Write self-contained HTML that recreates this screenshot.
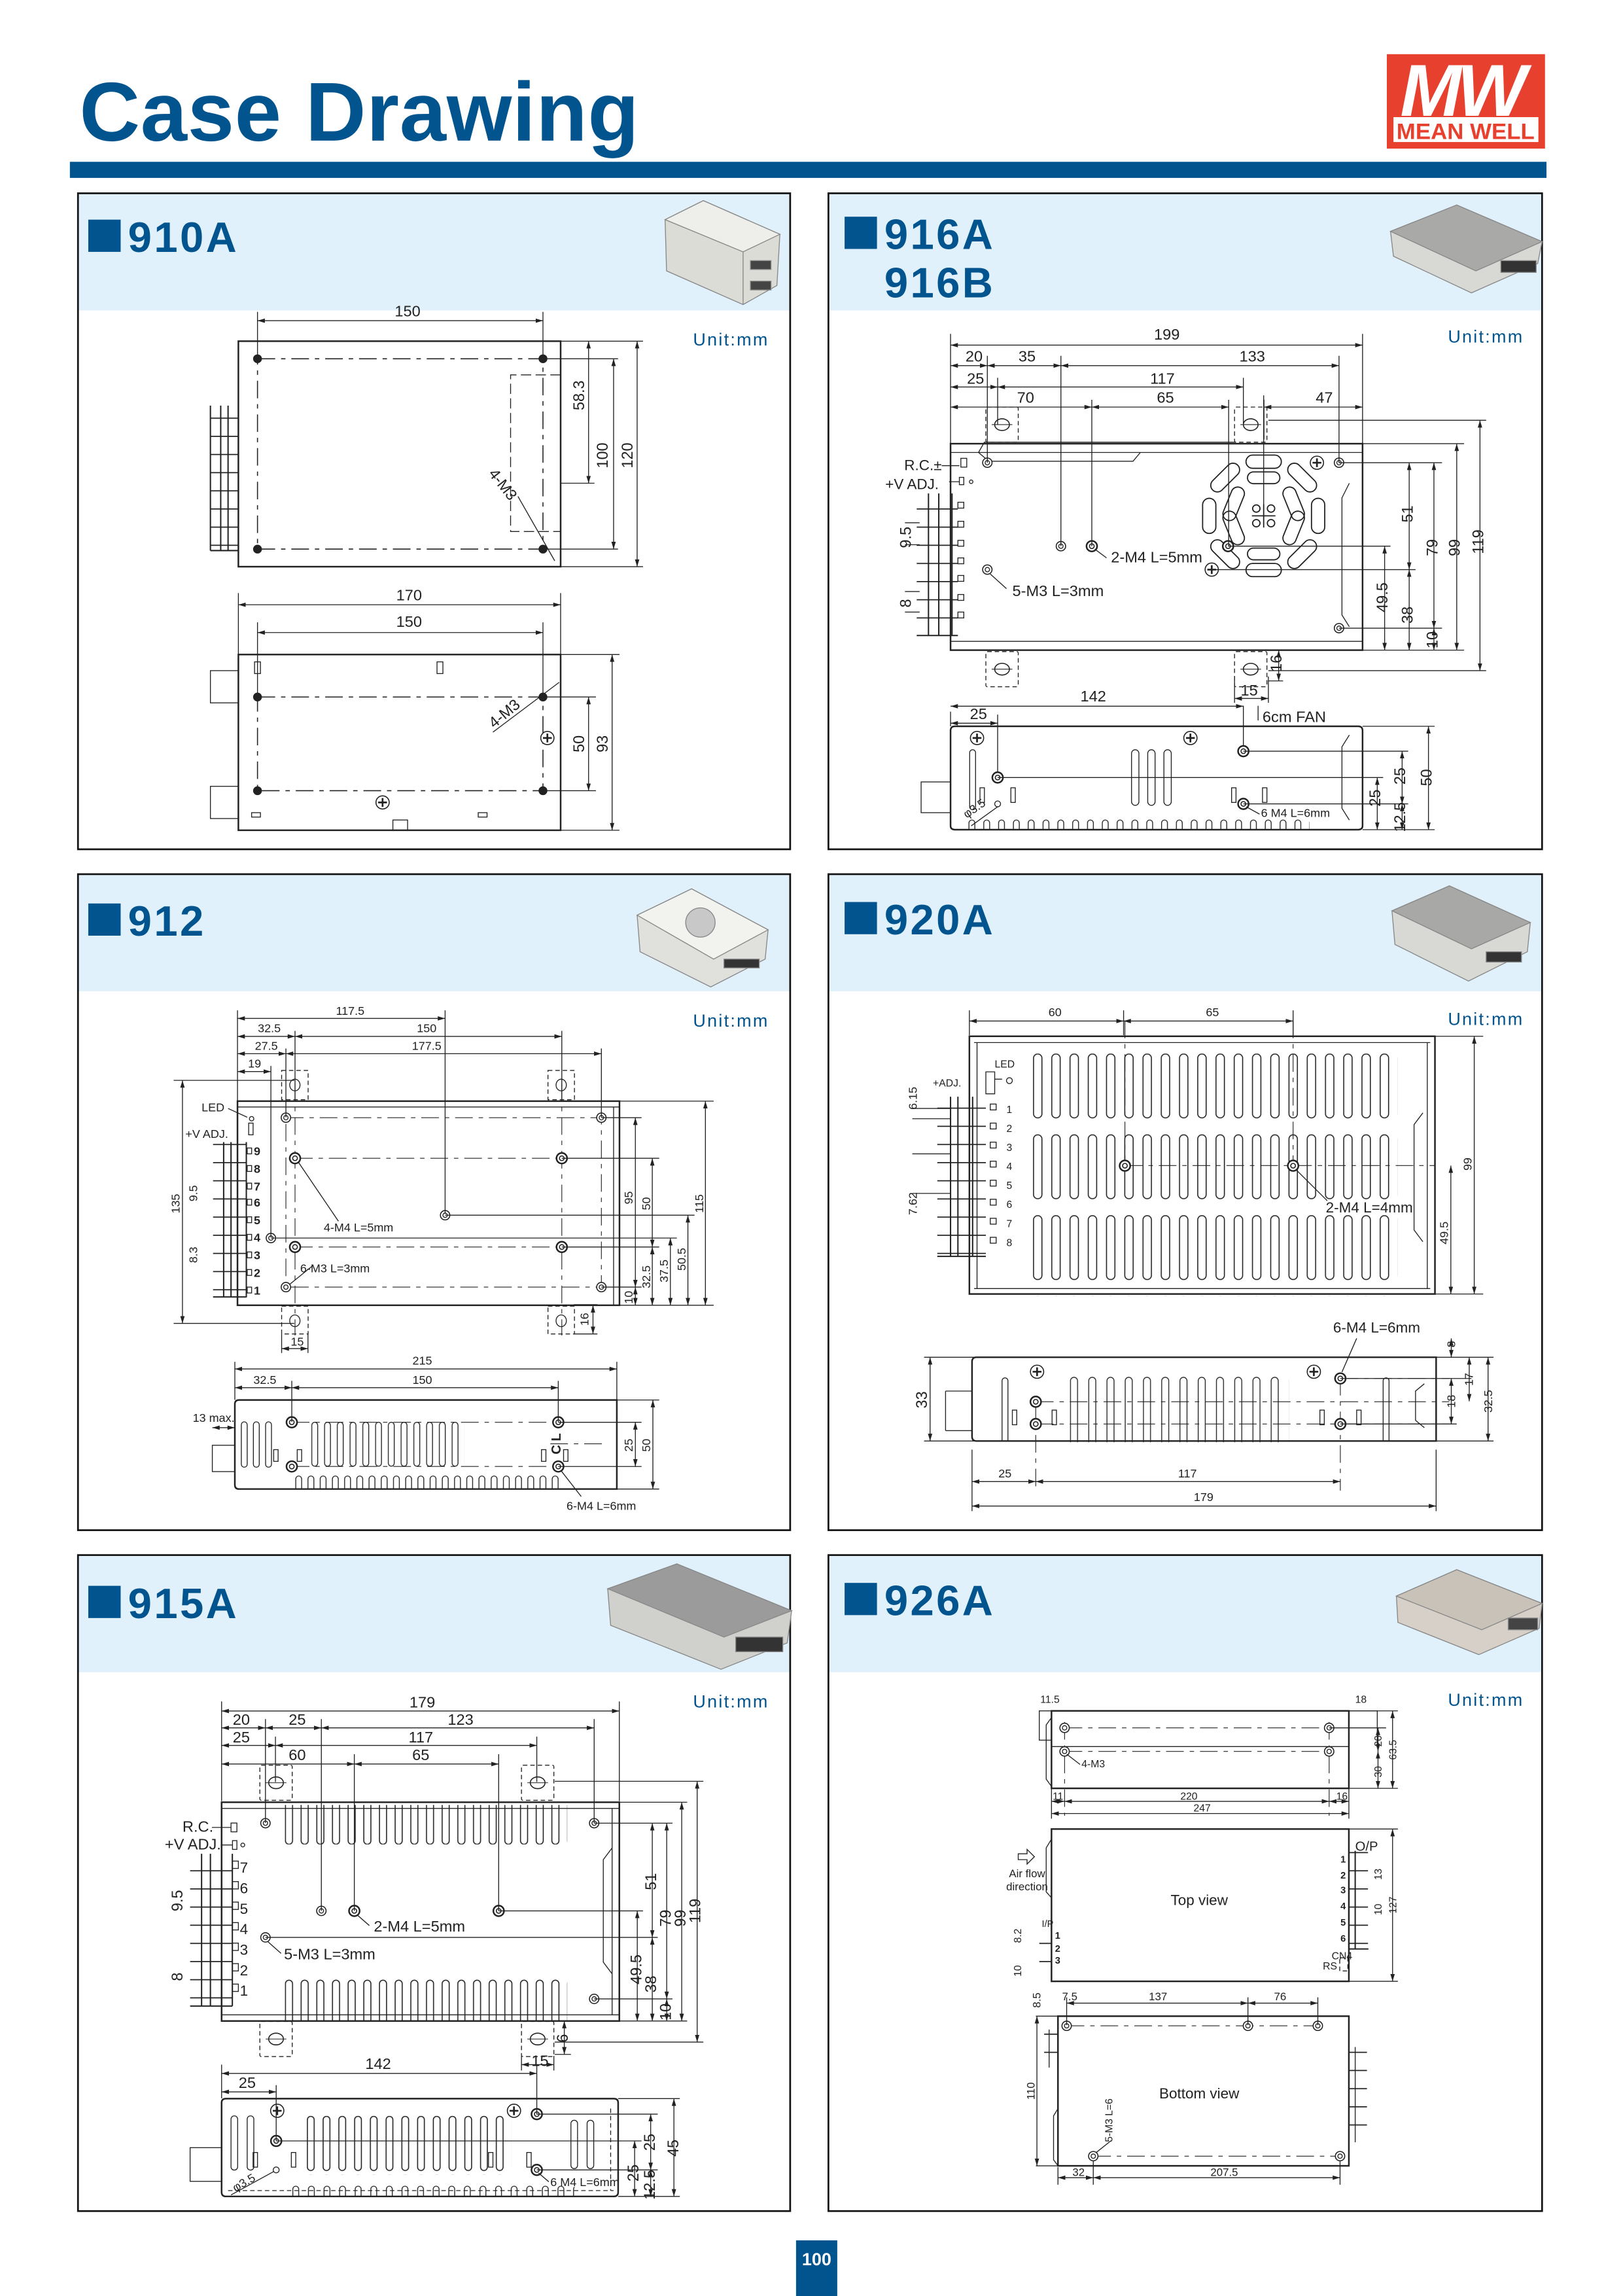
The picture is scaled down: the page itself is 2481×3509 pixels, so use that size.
<!DOCTYPE html><html><head><meta charset="utf-8"><style>
html,body{margin:0;padding:0;background:#fff}
svg{display:block}
.o{fill:none;stroke:#222;stroke-width:1.1}
.t{fill:none;stroke:#222;stroke-width:0.6}
.d{fill:none;stroke:#222;stroke-width:0.6;marker-start:url(#a);marker-end:url(#a)}
.c{fill:none;stroke:#222;stroke-width:0.7;stroke-dasharray:12 4 3 4}
.k{fill:none;stroke:#222;stroke-width:0.6;stroke-dasharray:3 2}
text{font-family:"Liberation Sans",sans-serif;fill:#222}
.l{font-size:10.5px;text-anchor:middle}
.s{font-size:8px}
.m9{font-size:9px}
.h{font-size:29px;font-weight:bold;fill:#02548f;letter-spacing:1.5px}
.u{font-size:12px;fill:#02548f;letter-spacing:1px}
</style></head><body>
<svg width="2481" height="3509" viewBox="0 0 1103 1568" preserveAspectRatio="none">
<defs>
<marker id="a" markerUnits="userSpaceOnUse" markerWidth="5" markerHeight="3" refX="5" refY="1.5" orient="auto-start-reverse"><path d="M0,0 L5,1.5 L0,3z" fill="#222"/></marker>
<g id="m"><circle r="3.2" fill="#fff" stroke="#222" stroke-width="0.7"/><circle r="1.5" fill="none" stroke="#222" stroke-width="0.6"/></g>
<g id="M"><circle r="3.6" fill="#fff" stroke="#222" stroke-width="1.1"/><circle r="1.6" fill="none" stroke="#222" stroke-width="0.7"/></g>
<g id="x"><circle r="4.5" fill="#fff" stroke="#222" stroke-width="0.7"/><path d="M-3,0H3M0,-3V3" stroke="#222" stroke-width="1.2"/></g>
<g id="tab"><rect x="-11" y="-12" width="22" height="24" rx="1" fill="none" stroke="#222" stroke-width="0.6" stroke-dasharray="3 2"/><ellipse rx="5" ry="4" fill="none" stroke="#222" stroke-width="0.7"/><path d="M-7,0H7" stroke="#222" stroke-width="0.5"/></g>
<pattern id="p4" patternUnits="userSpaceOnUse" x="702" y="719.5" width="12.4" height="55.2"><rect x="0.4" y="0.3" width="5.7" height="43.6" rx="2.8" fill="none" stroke="#222" stroke-width="0.7"/></pattern>
<pattern id="p4b" patternUnits="userSpaceOnUse" x="727" y="940" width="12.4" height="50"><path d="M0.5,45V3a2.4,2.4 0 0 1 4.8,0V45" fill="none" stroke="#222" stroke-width="0.6"/></pattern>
<pattern id="p5a" patternUnits="userSpaceOnUse" x="193.5" y="1232.6" width="10.65" height="28"><path d="M0.5,0V24.5a2.4,2.4 0 0 0 4.8,0V0" fill="none" stroke="#222" stroke-width="0.7"/></pattern>
<pattern id="p5b" patternUnits="userSpaceOnUse" x="193.5" y="1351.7" width="10.65" height="30"><path d="M0.5,30V3a2.4,2.4 0 0 1 4.8,0V30" fill="none" stroke="#222" stroke-width="0.7"/></pattern>
<pattern id="p5c" patternUnits="userSpaceOnUse" x="208.5" y="1445" width="10.7" height="40"><rect x="0.4" y="0.3" width="4.6" height="37" rx="2.3" fill="none" stroke="#222" stroke-width="0.7"/></pattern>
<pattern id="p3c" patternUnits="userSpaceOnUse" x="211.5" y="971" width="8.67" height="32"><rect x="0.4" y="0.3" width="4" height="30" rx="2" fill="none" stroke="#222" stroke-width="0.6"/></pattern>
<pattern id="arch" patternUnits="userSpaceOnUse" x="0" y="0" width="10.07" height="1600"><path d="M1,1600V0" stroke="none"/></pattern>
<pattern id="a2" patternUnits="userSpaceOnUse" x="658" y="559" width="10.07" height="8"><path d="M0.5,8V3a2,2 0 0 1 4,0V8" fill="none" stroke="#222" stroke-width="0.6"/></pattern>
<pattern id="a3" patternUnits="userSpaceOnUse" x="200.5" y="1007" width="8.3" height="10"><path d="M0.5,10V3a2,2 0 0 1 4,0V10" fill="none" stroke="#222" stroke-width="0.6"/></pattern>
<pattern id="a5" patternUnits="userSpaceOnUse" x="198.5" y="1492" width="10.6" height="8"><path d="M0.5,8V3a2,2 0 0 1 4,0V8" fill="none" stroke="#222" stroke-width="0.6"/></pattern>
<pattern id="tb" patternUnits="userSpaceOnUse" x="0" y="0" width="30" height="12.4"><path d="M0,0.3H30" stroke="#222" stroke-width="1"/></pattern>
</defs>

<!-- Header -->
<text x="54" y="96" style="font-size:57px;font-weight:bold;fill:#02548f;letter-spacing:0.3px">Case Drawing</text>
<rect x="47.5" y="110.5" width="1003.5" height="11" fill="#02548f"/>
<rect x="942.5" y="37" width="107.5" height="64.5" fill="#e8402f"/>
<text x="993" y="79" style="font-size:50px;font-weight:bold;font-style:italic;fill:#fff;text-anchor:middle;letter-spacing:-3px">MW</text>
<rect x="947" y="80" width="98.5" height="17" fill="#fff"/>
<text x="996" y="95" style="font-size:15.5px;font-weight:bold;fill:#e8402f;text-anchor:middle">MEAN WELL</text>

<!-- Panels -->
<g>
<rect x="53" y="132" width="484" height="80" fill="#e0f1fb"/>
<rect x="563" y="132" width="485" height="80" fill="#e0f1fb"/>
<rect x="53" y="597" width="484" height="80" fill="#e0f1fb"/>
<rect x="563" y="597" width="485" height="80" fill="#e0f1fb"/>
<rect x="53" y="1062" width="484" height="80" fill="#e0f1fb"/>
<rect x="563" y="1062" width="485" height="80" fill="#e0f1fb"/>
<g fill="none" stroke="#111" stroke-width="1.2">
<rect x="53" y="132" width="484" height="448"/>
<rect x="563" y="132" width="485" height="448"/>
<rect x="53" y="597" width="484" height="448"/>
<rect x="563" y="597" width="485" height="448"/>
<rect x="53" y="1062" width="484" height="448"/>
<rect x="563" y="1062" width="485" height="448"/>
</g>
<g fill="#02548f">
<rect x="60" y="150" width="22" height="22"/><rect x="574" y="148" width="22" height="22"/>
<rect x="60" y="617" width="22" height="22"/><rect x="574" y="616" width="22" height="22"/>
<rect x="60" y="1083" width="22" height="22"/><rect x="574" y="1081" width="22" height="22"/>
</g>
<text class="h" x="87" y="172">910A</text>
<text class="h" x="601" y="170">916A</text>
<text class="h" x="601" y="203">916B</text>
<text class="h" x="87" y="639">912</text>
<text class="h" x="601" y="638">920A</text>
<text class="h" x="87" y="1105">915A</text>
<text class="h" x="601" y="1103">926A</text>
<text class="u" x="471" y="236">Unit:mm</text>
<text class="u" x="984" y="234">Unit:mm</text>
<text class="u" x="471" y="701">Unit:mm</text>
<text class="u" x="984" y="700">Unit:mm</text>
<text class="u" x="471" y="1166">Unit:mm</text>
<text class="u" x="984" y="1165">Unit:mm</text>
<!-- photos -->
<g stroke="#888" stroke-width="0.6">
<polygon points="452,150 478,137 530,160 528,195 505,208 453,185" fill="#dcdcd6"/>
<polygon points="478,137 530,160 505,172 452,150" fill="#eeeeea"/>
<path d="M505,172V208" fill="none"/><rect x="510" y="178" width="14" height="6" fill="#444"/><rect x="510" y="192" width="14" height="6" fill="#444"/>
<polygon points="945,158 990,140 1048,165 1045,180 1000,200 947,175" fill="#d8d8d4"/>
<polygon points="945,158 990,140 1048,165 1003,185" fill="#a9aaa8"/>
<rect x="1020" y="178" width="24" height="8" fill="#333"/>
<polygon points="433,625 470,607 522,635 520,655 483,674 435,650" fill="#e0e0dc"/>
<polygon points="433,625 470,607 522,635 485,655" fill="#f2f2ee"/>
<circle cx="476" cy="630" r="10" fill="#c8c8c8"/><rect x="492" y="655" width="24" height="6" fill="#333"/>
<polygon points="946,622 985,605 1040,630 1038,650 998,670 948,645" fill="#d8d8d4"/>
<polygon points="946,622 985,605 1040,630 1000,648" fill="#a8a8a6"/>
<rect x="1010" y="650" width="24" height="7" fill="#333"/>
<polygon points="413,1085 460,1068 538,1100 535,1122 490,1140 415,1110" fill="#d0d0cc"/>
<polygon points="413,1085 460,1068 538,1100 492,1118" fill="#9a9b9a"/>
<rect x="500" y="1118" width="32" height="10" fill="#333"/>
<polygon points="949,1090 990,1072 1048,1095 1046,1112 1005,1130 950,1108" fill="#d6d0c8"/>
<polygon points="949,1090 990,1072 1048,1095 1007,1113" fill="#c8c2b8"/>
<rect x="1025" y="1105" width="20" height="8" fill="#444"/>
</g>
</g>

<!-- ============ P1 910A ============ -->
<g>
<rect class="o" x="162" y="233" width="219" height="154"/>
<path class="c" d="M175,245H369V375H175Z"/>
<path class="k" d="M381,256H347V363H381" style="stroke-dasharray:7 3"/>
<g fill="#222"><circle cx="175" cy="245" r="3"/><circle cx="369" cy="245" r="3"/><circle cx="175" cy="375" r="3"/><circle cx="369" cy="375" r="3"/></g>
<rect x="143" y="277" width="19" height="99" fill="url(#tb)"/>
<path class="t" d="M143,277V376M150,277V376M155,277V376M143,376H162" style="stroke-width:0.9"/>
<path class="t" d="M175,213V245M369,213V245"/><line class="d" x1="175" y1="219" x2="369" y2="219"/><text class="l" x="277" y="216">150</text>
<path class="t" d="M381,233H437M369,245H420M381,330H404M369,375H420M381,387H437"/>
<line class="d" x1="400" y1="233" x2="400" y2="330"/><line class="d" x1="417" y1="245" x2="417" y2="375"/><line class="d" x1="433" y1="233" x2="433" y2="387"/>
<text class="l" transform="translate(397,270) rotate(-90)">58.3</text>
<text class="l" transform="translate(413,311) rotate(-90)">100</text>
<text class="l" transform="translate(430,311) rotate(-90)">120</text>
<path class="t" d="M352,339L377,383"/><text class="l" transform="translate(339,333) rotate(52)">4-M3</text>

<rect class="o" x="162" y="447" width="219" height="120"/>
<path class="c" d="M175,476H369V540H175Z"/>
<g fill="#222"><circle cx="175" cy="476" r="3"/><circle cx="369" cy="476" r="3"/><circle cx="175" cy="540" r="3"/><circle cx="369" cy="540" r="3"/></g>
<rect class="t" x="143" y="458" width="19" height="22"/><rect class="t" x="143" y="537" width="19" height="22"/>
<rect class="t" x="173" y="452" width="4" height="8"/><rect class="t" x="297" y="452" width="4" height="8"/>
<rect class="t" x="171" y="555" width="6" height="3"/><rect class="t" x="325" y="555" width="6" height="3"/>
<rect class="t" x="267" y="560" width="10" height="7"/>
<use href="#x" x="260" y="548"/><use href="#x" x="372" y="504"/>
<path class="t" d="M162,405V447M381,405V447M175,425V476M369,425V476"/>
<line class="d" x1="162" y1="413" x2="381" y2="413"/><text class="l" x="278" y="410">170</text>
<line class="d" x1="175" y1="432" x2="369" y2="432"/><text class="l" x="278" y="428">150</text>
<path class="t" d="M381,447H421M369,476H405M369,540H405M381,567H421"/>
<line class="d" x1="400" y1="476" x2="400" y2="540"/><line class="d" x1="416" y1="447" x2="416" y2="567"/>
<text class="l" transform="translate(397,508) rotate(-90)">50</text>
<text class="l" transform="translate(413,508) rotate(-90)">93</text>
<path class="t" d="M335,500L380,466"/><text class="l" transform="translate(345,490) rotate(-40)">4-M3</text>
</g>

<!-- ============ P2 916A ============ -->
<g>
<rect class="o" x="646" y="303" width="280" height="141"/>
<path class="t" d="M646,309H926M646,438H926"/>
<path class="t" d="M665,309L669,302H840M665,309L672,315H770L775,309"/>
<path class="t" d="M917,330L912,340V420L917,428"/>
<use href="#tab" x="681" y="290"/><use href="#tab" x="850" y="290"/><use href="#tab" x="681" y="457"/><use href="#tab" x="850" y="457"/>
<g transform="translate(858.8,352.3)" fill="none" stroke="#222" stroke-width="0.8">
<rect x="-4.5" y="-12" width="9" height="24" rx="4.5" transform="rotate(0) translate(37,0)"/>
<rect x="-4.5" y="-12" width="9" height="24" rx="4.5" transform="rotate(45) translate(37,0)"/>
<rect x="-4.5" y="-12" width="9" height="24" rx="4.5" transform="rotate(90) translate(37,0)"/>
<rect x="-4.5" y="-12" width="9" height="24" rx="4.5" transform="rotate(135) translate(37,0)"/>
<rect x="-4.5" y="-12" width="9" height="24" rx="4.5" transform="rotate(180) translate(37,0)"/>
<rect x="-4.5" y="-12" width="9" height="24" rx="4.5" transform="rotate(225) translate(37,0)"/>
<rect x="-4.5" y="-12" width="9" height="24" rx="4.5" transform="rotate(270) translate(37,0)"/>
<rect x="-4.5" y="-12" width="9" height="24" rx="4.5" transform="rotate(315) translate(37,0)"/>
<rect x="-4.5" y="-12" width="9" height="24" rx="4.5" transform="rotate(22) translate(22,0)"/>
<rect x="-4.5" y="-12" width="9" height="24" rx="4.5" transform="rotate(158) translate(22,0)"/>
<rect x="-4.5" y="-12" width="9" height="24" rx="4.5" transform="rotate(202) translate(22,0)"/>
<rect x="-4.5" y="-12" width="9" height="24" rx="4.5" transform="rotate(338) translate(22,0)"/>
<rect x="-11" y="-30" width="22" height="8" rx="4"/><rect x="-11" y="22" width="22" height="8" rx="4"/>
<circle cx="-5" cy="-5" r="2.5"/><circle cx="5" cy="-5" r="2.5"/><circle cx="-5" cy="5" r="2.5"/><circle cx="5" cy="5" r="2.5"/>
<path d="M-8,0H8M0,-8V8"/>
</g>
<path class="t" d="M858.8,270V345"/>
<use href="#m" x="671" y="316"/><use href="#m" x="910" y="316"/><use href="#m" x="910" y="429"/><use href="#m" x="671" y="389"/><use href="#m" x="721" y="373"/>
<use href="#M" x="742" y="373"/><use href="#M" x="834.6" y="373"/>
<use href="#x" x="895" y="316"/><use href="#x" x="823.5" y="389"/>
<rect x="623" y="337" width="28" height="97" fill="url(#tb)"/>
<path class="t" d="M631,337V434M638,337V434M647,337V434M623,434H651" style="stroke-width:0.9"/>
<g class="t"><rect x="651" y="343" width="4" height="4"/><rect x="651" y="356" width="4" height="4"/><rect x="651" y="369" width="4" height="4"/><rect x="651" y="381" width="4" height="4"/><rect x="651" y="393" width="4" height="4"/><rect x="651" y="406" width="4" height="4"/><rect x="651" y="418" width="4" height="4"/></g>
<rect class="t" x="653" y="313" width="4" height="6"/><rect class="t" x="652" y="326" width="3" height="5"/><circle class="t" cx="660" cy="329" r="1.2"/>
<path class="t" d="M640,318H652M645,329H652"/>
<text x="640" y="321" style="font-size:10px;text-anchor:end">R.C.±</text>
<text x="638" y="334" style="font-size:10px;text-anchor:end">+V ADJ.</text>
<text class="l" transform="translate(619,367) rotate(-90)">9.5</text>
<text class="l" transform="translate(619,412) rotate(-90)">8</text>
<path class="t" d="M625,357H615M625,372H615M625,404H615M625,418H615"/>
<!-- dims top -->
<path class="t" d="M646,228V303M926,228V303M671,243V316M721,243V373M910,243V316M678,258V290M845,258V290M742,273V373M835,273V373M859,273V300"/>
<line class="d" x1="646" y1="235.7" x2="926" y2="235.7"/><text class="l" x="793" y="232">199</text>
<line class="d" x1="646" y1="249.7" x2="671" y2="249.7"/><line class="d" x1="671" y1="249.7" x2="721" y2="249.7"/><line class="d" x1="721" y1="249.7" x2="910" y2="249.7"/>
<text class="l" x="662" y="247">20</text><text class="l" x="698" y="247">35</text><text class="l" x="851" y="247">133</text>
<line class="d" x1="646" y1="264.3" x2="678" y2="264.3"/><line class="d" x1="678" y1="264.3" x2="845" y2="264.3"/>
<text class="l" x="663" y="262">25</text><text class="l" x="790" y="262">117</text>
<line class="d" x1="646" y1="278" x2="742" y2="278"/><line class="d" x1="742" y1="278" x2="835" y2="278"/><line class="d" x1="859" y1="278" x2="926" y2="278"/>
<text class="l" x="697" y="275">70</text><text class="l" x="792" y="275">65</text><text class="l" x="900" y="275">47</text>
<!-- dims right -->
<path class="t" d="M862,287H1010M926,303H995M910,316H980M834.6,373H945M823.5,389H962M910,429H980M926,444H995M862,458H1010"/>
<line class="d" x1="941" y1="373" x2="941" y2="444"/><line class="d" x1="957.7" y1="316" x2="957.7" y2="389"/><line class="d" x1="957.7" y1="389" x2="957.7" y2="444"/>
<line class="d" x1="974.5" y1="316" x2="974.5" y2="429"/><line class="d" x1="974.5" y1="429" x2="974.5" y2="444"/>
<line class="d" x1="990" y1="303" x2="990" y2="444"/><line class="d" x1="1005.8" y1="287" x2="1005.8" y2="458"/>
<text class="l" transform="translate(943,408) rotate(-90)">49.5</text>
<text class="l" transform="translate(960,351) rotate(-90)">51</text>
<text class="l" transform="translate(960,420) rotate(-90)">38</text>
<text class="l" transform="translate(977,374) rotate(-90)">79</text>
<text class="l" transform="translate(977,437) rotate(-90)">10</text>
<text class="l" transform="translate(992,374) rotate(-90)">99</text>
<text class="l" transform="translate(1008,370) rotate(-90)">119</text>
<path class="t" d="M862,444H872M862,465H872M839,462V480M862,462V480"/><line class="d" x1="869" y1="444" x2="869" y2="465"/>
<text class="l" transform="translate(871,453) rotate(-90)">16</text>
<line class="d" x1="839" y1="477" x2="862" y2="477"/><text class="l" x="849" y="475">15</text>
<text x="755" y="384" style="font-size:10.5px">2-M4 L=5mm</text><path class="t" d="M744,375L752,381"/>
<text x="688" y="407" style="font-size:10.5px">5-M3 L=3mm</text><path class="t" d="M673,392L684,402"/>
<!-- side -->
<path class="o" d="M649,496H923Q926,496 926,499V564Q926,566.6 923,566.6H649Q646,566.6 646,564V499Q646,496 649,496Z"/>
<rect class="t" x="626" y="534" width="20" height="21"/>
<path class="t" d="M917,502L912,510V552L917,560"/>
<path class="t" d="M646,486V496M678,488V531M845,482V513"/>
<line class="d" x1="646" y1="482.3" x2="845" y2="482.3"/><text class="l" x="743" y="479">142</text>
<line class="d" x1="646" y1="493.9" x2="678" y2="493.9"/><text class="l" x="665" y="491">25</text>
<path class="t" d="M855,482V492"/><text x="858" y="493" style="font-size:10.5px">6cm  FAN</text>
<use href="#M" x="678" y="531"/><use href="#M" x="845" y="513"/><use href="#M" x="845" y="549"/>
<circle class="t" cx="678" cy="549" r="2"/>
<use href="#x" x="664" y="504"/><use href="#x" x="809" y="504"/>
<g class="t"><rect x="659" y="512" width="4" height="41" rx="2"/><rect x="769" y="512" width="5" height="38" rx="2.5"/><rect x="780" y="512" width="5" height="38" rx="2.5"/><rect x="791" y="512" width="5" height="38" rx="2.5"/>
<rect x="666" y="538" width="3" height="10"/><rect x="687" y="538" width="3" height="10"/><rect x="837" y="538" width="3" height="10"/><rect x="858" y="538" width="3" height="10"/></g>
<rect x="658" y="559" width="232" height="8" fill="url(#a2)"/>
<path class="t" d="M660,564L678,551"/><text class="s" transform="translate(657,559) rotate(-35)">φ3.5</text>
<text class="s" x="857" y="558">6 M4 L=6mm</text><path class="t" d="M847,551L856,556"/>
<path class="t" d="M926,496H975M845,513H957M678,531H940M845,549H957M926,566.6H975"/>
<line class="d" x1="970.8" y1="496" x2="970.8" y2="566.6"/><line class="d" x1="952.9" y1="513" x2="952.9" y2="549"/><line class="d" x1="952.9" y1="549" x2="952.9" y2="566.6"/><line class="d" x1="936" y1="531" x2="936" y2="566.6"/>
<text class="l" transform="translate(973,531) rotate(-90)">50</text>
<text class="l" transform="translate(955,530) rotate(-90)">25</text>
<text class="l" transform="translate(955,558) rotate(-90)">12.5</text>
<text class="l" transform="translate(938,545) rotate(-90)">25</text>
</g>

<!-- ============ P3 912 ============ -->
<g>
<rect class="o" x="161.4" y="752" width="259.6" height="139.4"/>
<path class="t" d="M161.4,756H421M417,756V891"/>
<path class="c" d="M194.3,763.3H408.7V879H194.3Z" style="stroke-width:0.5"/>
<path class="c" d="M200.5,740V912M381.8,740V912M200.5,791H381.8M200.5,851.6H381.8" style="stroke-width:0.5"/>
<use href="#m" x="194.3" y="763.3"/><use href="#m" x="408.7" y="763.3"/><use href="#m" x="194.3" y="879"/><use href="#m" x="408.7" y="879"/><use href="#m" x="184.1" y="845.5"/><use href="#m" x="302.5" y="829.9"/>
<use href="#M" x="200.5" y="791"/><use href="#M" x="381.8" y="791"/><use href="#M" x="200.5" y="851.6"/><use href="#M" x="381.8" y="851.6"/>
<g><rect class="k" x="191.4" y="731" width="18" height="20"/><rect class="k" x="372.4" y="731" width="18" height="20"/><rect class="k" x="191.4" y="892" width="18" height="19"/><rect class="k" x="372.4" y="892" width="18" height="19"/>
<ellipse class="t" cx="200.4" cy="741" rx="3.5" ry="4"/><ellipse class="t" cx="381.4" cy="741" rx="3.5" ry="4"/><ellipse class="t" cx="200.4" cy="902" rx="3.5" ry="4"/><ellipse class="t" cx="381.4" cy="902" rx="3.5" ry="4"/></g>
<rect x="144.8" y="779.7" width="22.6" height="106" fill="url(#tb)"/>
<path class="t" d="M144.8,885.7H167.4M152,780V886M157,780V886M167.4,780V886" style="stroke-width:0.9"/>
<g class="t"><rect x="168" y="784" width="3" height="4"/><rect x="168" y="796" width="3" height="4"/><rect x="168" y="808" width="3" height="4"/><rect x="168" y="819" width="3" height="4"/><rect x="168" y="831" width="3" height="4"/><rect x="168" y="843" width="3" height="4"/><rect x="168" y="855" width="3" height="4"/><rect x="168" y="867" width="3" height="4"/><rect x="168" y="879" width="3" height="4"/></g>
<g class="s" style="font-weight:bold"><text x="172.5" y="789">9</text><text x="172.5" y="801">8</text><text x="172.5" y="813">7</text><text x="172.5" y="824">6</text><text x="172.5" y="836">5</text><text x="172.5" y="848">4</text><text x="172.5" y="860">3</text><text x="172.5" y="872">2</text><text x="172.5" y="884">1</text></g>
<text class="s" x="137" y="759">LED</text><path class="t" d="M155,757L168,763"/><circle class="t" cx="171" cy="764" r="1.5"/>
<text class="s" x="126" y="777">+V ADJ.</text><rect class="t" x="169" y="767" width="3" height="8"/>
<text class="s" transform="translate(122,822) rotate(-90)" style="text-anchor:middle">135</text>
<path class="t" d="M118,737.8H200M118,903.8H200"/><line class="d" x1="124" y1="737.8" x2="124" y2="903.8"/>
<text class="s" transform="translate(134,815) rotate(-90)" style="text-anchor:middle">9.5</text>
<text class="s" transform="translate(134,857) rotate(-90)" style="text-anchor:middle">8.3</text>
<!-- top dims -->
<path class="t" d="M161.4,690V752M302.5,690V829M200.5,704V752M381.8,704V752M194.3,716V763M408.7,716V763M184.1,728V845"/>
<line class="d" x1="161.4" y1="695.5" x2="302.5" y2="695.5"/><text class="s" x="238" y="693" style="text-anchor:middle">117.5</text>
<line class="d" x1="161.4" y1="707.8" x2="200.5" y2="707.8"/><line class="d" x1="200.5" y1="707.8" x2="381.8" y2="707.8"/>
<text class="s" x="183" y="705" style="text-anchor:middle">32.5</text><text class="s" x="290" y="705" style="text-anchor:middle">150</text>
<line class="d" x1="161.4" y1="719.6" x2="194.3" y2="719.6"/><line class="d" x1="194.3" y1="719.6" x2="408.7" y2="719.6"/>
<text class="s" x="181" y="717" style="text-anchor:middle">27.5</text><text class="s" x="290" y="717" style="text-anchor:middle">177.5</text>
<line class="d" x1="161.4" y1="731.8" x2="184.1" y2="731.8"/><text class="s" x="173" y="729" style="text-anchor:middle">19</text>
<!-- right dims -->
<path class="t" d="M421,752H485M408.7,763.3H436M381.8,791H448M302.5,829.9H472M184.1,845.5H460M381.8,851.6H448M408.7,879H436M421,891.4H485"/>
<line class="d" x1="431.8" y1="763.3" x2="431.8" y2="879"/><line class="d" x1="431.8" y1="879" x2="431.8" y2="891.4"/>
<line class="d" x1="443.3" y1="791" x2="443.3" y2="851.6"/><line class="d" x1="443.3" y1="851.6" x2="443.3" y2="891.4"/>
<line class="d" x1="455.6" y1="845.5" x2="455.6" y2="891.4"/><line class="d" x1="467.5" y1="829.9" x2="467.5" y2="891.4"/><line class="d" x1="479.4" y1="752" x2="479.4" y2="891.4"/>
<g class="s" style="text-anchor:middle"><text transform="translate(430,818) rotate(-90)">95</text><text transform="translate(430,886) rotate(-90)">10</text>
<text transform="translate(442,822) rotate(-90)">50</text><text transform="translate(442,872) rotate(-90)">32.5</text>
<text transform="translate(454,868) rotate(-90)">37.5</text><text transform="translate(466,860) rotate(-90)">50.5</text><text transform="translate(478,822) rotate(-90)">115</text>
<text transform="translate(400,901) rotate(-90)">16</text><text x="202" y="919">15</text></g>
<path class="t" d="M390,891H406M390,911H406M191.4,911V924M209.3,911V924"/><line class="d" x1="403" y1="891.4" x2="403" y2="911"/><line class="d" x1="191.4" y1="921" x2="209.3" y2="921"/>
<text class="s" x="220" y="841">4-M4 L=5mm</text><path class="t" d="M203,794L230,834"/>
<text class="s" x="204" y="869">6-M3 L=3mm</text><path class="t" d="M213,864L197,877"/>
<!-- side -->
<path class="o" d="M162.4,956.1H419.2V1016.9H162.4Q159.6,1016.9 159.6,1014V959Q159.6,956.1 162.4,956.1Z"/>
<rect class="t" x="144.3" y="987" width="15.3" height="18"/>
<path class="c" d="M198.3,971.3H379.4M198.3,1001.5H379.4M374,986H410" style="stroke-width:0.5"/>
<use href="#M" x="198.3" y="971.3"/><use href="#M" x="379.4" y="971.3"/><use href="#M" x="198.3" y="1001.5"/><use href="#M" x="379.4" y="1001.5"/>
<g class="t"><rect x="164" y="971" width="4" height="31" rx="2"/><rect x="172.2" y="971" width="4" height="31" rx="2"/><rect x="180.5" y="971" width="4" height="31" rx="2"/>
<rect x="186" y="990" width="3" height="8"/><rect x="202" y="990" width="3" height="8"/><rect x="368" y="990" width="3" height="8"/><rect x="383" y="990" width="3" height="8"/></g>
<rect x="211.5" y="971" width="104" height="32" fill="url(#p3c)"/>
<rect x="200.5" y="1007" width="182" height="10" fill="url(#a3)"/>
<path class="t" d="M159.6,930V956M419.2,930V956M198.3,943V971M379.4,943V971"/>
<line class="d" x1="159.6" y1="934.9" x2="419.2" y2="934.9"/><text class="s" x="287" y="932" style="text-anchor:middle">215</text>
<line class="d" x1="159.6" y1="947.7" x2="198.3" y2="947.7"/><line class="d" x1="198.3" y1="947.7" x2="379.4" y2="947.7"/>
<text class="s" x="180" y="945" style="text-anchor:middle">32.5</text><text class="s" x="287" y="945" style="text-anchor:middle">150</text>
<text class="s" x="131" y="971">13 max.</text><line class="d" x1="144.3" y1="975" x2="159.6" y2="975"/>
<path class="t" d="M419.2,956.1H448M379.4,971.3H436M379.4,1001.5H436M419.2,1016.9H448"/>
<line class="d" x1="431.8" y1="971.3" x2="431.8" y2="1001.5"/><line class="d" x1="443.7" y1="956.1" x2="443.7" y2="1016.9"/>
<text class="s" transform="translate(430,987) rotate(-90)" style="text-anchor:middle">25</text>
<text class="s" transform="translate(442,987) rotate(-90)" style="text-anchor:middle">50</text>
<text class="m9" transform="translate(381,986) rotate(-90)" style="text-anchor:middle;font-weight:bold">C L</text>
<text class="s" x="385" y="1031">6-M4 L=6mm</text><path class="t" d="M381,1004L395,1022"/>
</g>

<!-- ============ P4 920A ============ -->
<g>
<rect class="o" x="658.8" y="707.7" width="316.4" height="176"/>
<path class="t" d="M662,712H972M662,880H972M664,712V880M970,712V880"/>
<path class="t" d="M967,760L961,768V840L967,848"/>
<rect x="702" y="719.5" width="248" height="165.6" fill="url(#p4)"/>
<path class="c" d="M764.5,697V796M878.8,697V796M764.5,796H975" style="stroke-width:0.5"/>
<use href="#M" x="764.5" y="796.1"/><use href="#M" x="878.8" y="796.1"/>
<rect x="637" y="748.8" width="33" height="109.2" fill="url(#tb)" style="stroke:none"/>
<path class="t" d="M637,858H670M646,749V858M651,749V858M661,749V858" style="stroke-width:0.9"/>
<g class="t"><rect x="673" y="754" width="4" height="4"/><rect x="673" y="767" width="4" height="4"/><rect x="673" y="780" width="4" height="4"/><rect x="673" y="793" width="4" height="4"/><rect x="673" y="806" width="4" height="4"/><rect x="673" y="819" width="4" height="4"/><rect x="673" y="832" width="4" height="4"/><rect x="673" y="845" width="4" height="4"/></g>
<g class="s" style="font-size:7px"><text x="684" y="760">1</text><text x="684" y="773">2</text><text x="684" y="786">3</text><text x="684" y="799">4</text><text x="684" y="812">5</text><text x="684" y="825">6</text><text x="684" y="838">7</text><text x="684" y="851">8</text></g>
<text class="s" x="676" y="729" style="font-size:7px">LED</text><path class="t" d="M670,732V747H676V732ZM676,737H681"/><circle class="t" cx="686" cy="738" r="2"/>
<text class="s" x="634" y="742" style="font-size:7px">+ADJ.</text>
<path class="t" d="M620,757H646M620,764H646M620,788H646M620,815H646"/>
<text class="s" transform="translate(623,750) rotate(-90)" style="text-anchor:middle">6.15</text>
<text class="s" transform="translate(623,822) rotate(-90)" style="text-anchor:middle">7.62</text>
<path class="t" d="M658.8,690V707M763.6,690V707M878.8,690V707"/>
<line class="d" x1="658.8" y1="697.3" x2="763.6" y2="697.3"/><line class="d" x1="763.6" y1="697.3" x2="878.8" y2="697.3"/>
<text class="s" x="717" y="694" style="text-anchor:middle">60</text><text class="s" x="824" y="694" style="text-anchor:middle">65</text>
<path class="t" d="M975,707.7H1008M975,883.7H1008"/>
<line class="d" x1="1001.9" y1="707.7" x2="1001.9" y2="883.7"/><line class="d" x1="986" y1="796" x2="986" y2="883.7"/>
<text class="s" transform="translate(1000,795) rotate(-90)" style="text-anchor:middle">99</text>
<text class="s" transform="translate(984,842) rotate(-90)" style="text-anchor:middle">49.5</text>
<text x="901" y="828" style="font-size:10px">2-M4 L=4mm</text><path class="t" d="M881,799L902,820"/>
<!-- side -->
<path class="o" d="M663.6,926.9H976V984.1H663.6Q660.6,984.1 660.6,981V930Q660.6,926.9 663.6,926.9Z"/>
<path class="t" d="M642.6,950H660.6M642.6,977H660.6M642.6,950V977M968,945L962,950V970L968,975"/>
<path class="c" d="M704,957.3H985M704,972.5H910.9M910.9,941.4H985M910.9,972.5H985M703.9,957V1018M910.9,941V1018" style="stroke-width:0.5"/>
<use href="#M" x="703.9" y="957.3"/><use href="#M" x="703.9" y="972.5"/><use href="#M" x="910.9" y="941.4"/><use href="#M" x="910.9" y="972.5"/>
<use href="#x" x="704.8" y="936.8"/><use href="#x" x="892.9" y="936.8"/>
<rect x="727" y="940" width="149" height="45" fill="url(#p4b)"/>
<g class="t"><path d="M681,984V943a2,2 0 0 1 4,0V984M940,984V943a2,2 0 0 1 4,0V984"/><rect x="688" y="963" width="3" height="10"/><rect x="715" y="963" width="3" height="10"/><rect x="897" y="963" width="3" height="10"/><rect x="922" y="963" width="3" height="10"/></g>
<path class="t" d="M628,926.9H663M628,984.1H663"/><line class="d" x1="632.1" y1="926.9" x2="632.1" y2="984.1"/>
<text class="l" transform="translate(630,956) rotate(-90)">33</text>
<text x="906" y="910" style="font-size:10px">6-M4 L=6mm</text><path class="t" d="M922,914L912,937"/>
<path class="t" d="M976,926.9H1015M910.9,941.4H1000M910.9,972.5H990M976,984.1H1015"/>
<line class="d" x1="986.3" y1="914" x2="986.3" y2="926.9"/><line class="d" x1="986.3" y1="941.4" x2="986.3" y2="972.5"/><line class="d" x1="998.5" y1="926.9" x2="998.5" y2="957"/><line class="d" x1="1011.3" y1="926.9" x2="1011.3" y2="984.1"/>
<g class="s" style="text-anchor:middle"><text transform="translate(989,918) rotate(-90)">8</text><text transform="translate(989,957) rotate(-90)">18</text><text transform="translate(1001,942) rotate(-90)">17</text><text transform="translate(1014,957) rotate(-90)">32.5</text></g>
<path class="t" d="M660.6,990V1032M976,990V1032"/>
<line class="d" x1="660.6" y1="1011.8" x2="703.9" y2="1011.8"/><line class="d" x1="703.9" y1="1011.8" x2="910.9" y2="1011.8"/>
<text class="s" x="683" y="1009" style="text-anchor:middle">25</text><text class="s" x="807" y="1009" style="text-anchor:middle">117</text>
<line class="d" x1="660.6" y1="1028.5" x2="976" y2="1028.5"/><text class="s" x="818" y="1025" style="text-anchor:middle">179</text>
</g>

<!-- ============ P5 915A ============ -->
<g>
<rect class="o" x="150.6" y="1230.8" width="270.3" height="149.4"/>
<path class="t" d="M150.6,1235H420.9M150.6,1376H420.9M416,1235V1376"/>
<path class="t" d="M416,1262L410,1270V1340L416,1348"/>
<rect x="193.5" y="1232.6" width="192" height="27" fill="url(#p5a)"/>
<rect x="193.5" y="1351.7" width="192" height="28.5" fill="url(#p5b)"/>
<use href="#tab" x="187.6" y="1217.5"/><use href="#tab" x="365.4" y="1217.5"/><use href="#tab" x="187.6" y="1392.5"/><use href="#tab" x="365.4" y="1392.5"/>
<use href="#m" x="180.4" y="1245.1"/><use href="#m" x="403.8" y="1245.1"/><use href="#m" x="403.8" y="1365.1"/><use href="#m" x="180.4" y="1323.1"/><use href="#m" x="218.4" y="1305"/>
<use href="#M" x="240.8" y="1305"/><use href="#M" x="338.9" y="1305"/>
<rect x="129.2" y="1266" width="28.7" height="104" fill="url(#tb)"/>
<path class="t" d="M129.2,1370H157.9M137,1266V1370M143,1266V1370M157.9,1266V1370" style="stroke-width:0.9"/>
<g class="t"><rect x="158" y="1271" width="4" height="5"/><rect x="158" y="1285" width="4" height="5"/><rect x="158" y="1299" width="4" height="5"/><rect x="158" y="1313" width="4" height="5"/><rect x="158" y="1327" width="4" height="5"/><rect x="158" y="1341" width="4" height="5"/><rect x="158" y="1355" width="4" height="5"/></g>
<g style="font-size:10px"><text x="163" y="1279">7</text><text x="163" y="1293">6</text><text x="163" y="1307">5</text><text x="163" y="1321">4</text><text x="163" y="1335">3</text><text x="163" y="1349">2</text><text x="163" y="1363">1</text></g>
<text x="124" y="1251" style="font-size:10.5px">R.C.</text><path class="t" d="M144,1248H157"/><rect class="t" x="157" y="1245" width="4" height="6"/>
<text x="112" y="1263" style="font-size:10.5px">+V ADJ.</text><path class="t" d="M150,1260H158"/><rect class="t" x="158" y="1257" width="3" height="6"/><circle class="t" cx="165" cy="1260" r="1.3"/>
<text class="l" transform="translate(124,1298) rotate(-90)">9.5</text><text class="l" transform="translate(124,1350) rotate(-90)">8</text>
<path class="t" d="M150.6,1162V1230M420.9,1162V1230M180.4,1174V1245M218.4,1174V1305M403.8,1174V1245M187.2,1186V1217M364.8,1186V1217M240.8,1198V1305M338.9,1198V1305"/>
<line class="d" x1="150.6" y1="1168.5" x2="420.9" y2="1168.5"/><text class="l" x="287" y="1166">179</text>
<line class="d" x1="150.6" y1="1180" x2="180.4" y2="1180"/><line class="d" x1="180.4" y1="1180" x2="218.4" y2="1180"/><line class="d" x1="218.4" y1="1180" x2="403.8" y2="1180"/>
<text class="l" x="164" y="1178">20</text><text class="l" x="202" y="1178">25</text><text class="l" x="313" y="1178">123</text>
<line class="d" x1="150.6" y1="1192" x2="187.2" y2="1192"/><line class="d" x1="187.2" y1="1192" x2="364.8" y2="1192"/>
<text class="l" x="164" y="1190">25</text><text class="l" x="286" y="1190">117</text>
<line class="d" x1="150.6" y1="1204.7" x2="240.8" y2="1204.7"/><line class="d" x1="240.8" y1="1204.7" x2="338.9" y2="1204.7"/>
<text class="l" x="202" y="1202">60</text><text class="l" x="286" y="1202">65</text>
<path class="t" d="M377,1216.5H478M420.9,1230.8H467M403.8,1245.1H457M338.9,1305H437M180.4,1323.1H447M403.8,1365.1H457M420.9,1380.2H467M377,1394.6H478"/>
<line class="d" x1="433.1" y1="1305" x2="433.1" y2="1380.2"/><line class="d" x1="443.3" y1="1245.1" x2="443.3" y2="1323.1"/><line class="d" x1="443.3" y1="1323.1" x2="443.3" y2="1380.2"/>
<line class="d" x1="453.1" y1="1245.1" x2="453.1" y2="1365.1"/><line class="d" x1="453.1" y1="1365.1" x2="453.1" y2="1380.2"/><line class="d" x1="463.3" y1="1230.8" x2="463.3" y2="1380.2"/><line class="d" x1="473.8" y1="1216.5" x2="473.8" y2="1394.6"/>
<g class="l"><text transform="translate(436,1345) rotate(-90)">49.5</text><text transform="translate(446,1285) rotate(-90)">51</text><text transform="translate(446,1355) rotate(-90)">38</text>
<text transform="translate(456,1310) rotate(-90)">79</text><text transform="translate(456,1374) rotate(-90)">10</text><text transform="translate(466,1310) rotate(-90)">99</text><text transform="translate(476,1305) rotate(-90)">119</text>
<text transform="translate(386,1392) rotate(-90)">6</text><text x="367" y="1411">15</text></g>
<path class="t" d="M377,1403H388M354.4,1404V1414M376.4,1404V1414"/><line class="d" x1="383.5" y1="1380.2" x2="383.5" y2="1403"/><line class="d" x1="354.4" y1="1410" x2="376.4" y2="1410"/>
<text x="254" y="1319" style="font-size:10.5px">2-M4 L=5mm</text><path class="t" d="M243,1308L251,1315"/>
<text x="193" y="1338" style="font-size:10.5px">5-M3 L=3mm</text><path class="t" d="M182,1326L191,1334"/>
<!-- side -->
<path class="o" d="M153.6,1433.2H417.1Q420.1,1433.2 420.1,1436V1497Q420.1,1500 417.1,1500H153.6Q150.6,1500 150.6,1497V1436Q150.6,1433.2 153.6,1433.2Z"/>
<path class="k" d="M155,1496H417M415,1440V1496"/>
<rect class="t" x="129.2" y="1466.7" width="21.4" height="23"/>
<use href="#M" x="187.7" y="1462.1"/><use href="#M" x="364.8" y="1443.8"/><use href="#M" x="364.8" y="1481.9"/><circle class="t" cx="187.7" cy="1481.9" r="2"/>
<use href="#x" x="188.4" y="1441.5"/><use href="#x" x="349.3" y="1441.5"/>
<g class="t"><rect x="157" y="1445" width="4.5" height="37" rx="2.2"/><rect x="168" y="1445" width="4.5" height="37" rx="2.2"/><rect x="388" y="1448" width="4.5" height="33" rx="2.2"/><rect x="399" y="1448" width="4.5" height="33" rx="2.2"/>
<rect x="172" y="1470" width="3" height="10"/><rect x="198" y="1470" width="3" height="10"/><rect x="332" y="1470" width="3" height="10"/><rect x="358" y="1470" width="3" height="10"/></g>
<rect x="208.5" y="1445" width="139" height="40" fill="url(#p5c)"/>
<rect x="198.5" y="1492" width="192" height="8" fill="url(#a5)"/>
<path class="t" d="M150.6,1410V1433M364.8,1410V1444M187.7,1424V1462"/>
<line class="d" x1="150.6" y1="1416" x2="364.8" y2="1416"/><text class="l" x="257" y="1413">142</text>
<line class="d" x1="150.6" y1="1428.6" x2="187.7" y2="1428.6"/><text class="l" x="168" y="1426">25</text>
<path class="t" d="M420.1,1433.2H462M364.8,1443.8H447M187.7,1462.1H436M364.8,1481.9H447M420.1,1500H462"/>
<line class="d" x1="458" y1="1433.2" x2="458" y2="1500"/><line class="d" x1="442.2" y1="1443.8" x2="442.2" y2="1481.9"/><line class="d" x1="442.2" y1="1481.9" x2="442.2" y2="1500"/><line class="d" x1="431.3" y1="1462.1" x2="431.3" y2="1500"/>
<g class="l"><text transform="translate(461,1467) rotate(-90)">45</text><text transform="translate(445,1463) rotate(-90)">25</text><text transform="translate(445,1492) rotate(-90)">12.5</text><text transform="translate(434,1484) rotate(-90)">25</text></g>
<text class="s" x="374" y="1493">6 M4 L=6mm</text><path class="t" d="M366,1484L373,1490"/>
<path class="t" d="M157,1499L186,1483"/><text class="s" transform="translate(160,1497) rotate(-30)">φ3.5</text>
</g>

<!-- ============ P6 926A ============ -->
<g>
<rect class="o" x="714.6" y="1168.4" width="202.1" height="52.9"/>
<path class="t" d="M714.6,1192.8H916.7"/>
<rect class="t" x="706.3" y="1168.4" width="8.3" height="20"/>
<path class="t" d="M714.6,1173L711,1178V1215L714.6,1220M916.7,1168.4H936V1192"/>
<path class="c" d="M723.5,1180H903.3M723.5,1196.1H903.3M723.5,1176V1240M903.3,1176V1240" style="stroke-width:0.5"/>
<use href="#m" x="723.5" y="1180"/><use href="#m" x="903.3" y="1180"/><use href="#m" x="723.5" y="1196.1"/><use href="#m" x="903.3" y="1196.1"/>
<text class="s" x="735" y="1207" style="font-size:7px">4-M3</text><path class="t" d="M725,1198L734,1205"/>
<text class="s" x="707" y="1163" style="font-size:7px">11.5</text><text class="s" x="921" y="1163" style="font-size:7px">18</text>
<path class="t" d="M903.3,1180H942M916.7,1221.3H950M916.7,1168.4H950M714.6,1221V1242M916.7,1221V1242"/>
<line class="d" x1="936.5" y1="1180" x2="936.5" y2="1196"/><line class="d" x1="936.5" y1="1196" x2="936.5" y2="1221.3"/><line class="d" x1="946.4" y1="1168.4" x2="946.4" y2="1221.3"/>
<g class="s" style="font-size:7px;text-anchor:middle"><text transform="translate(939,1189) rotate(-90)">20</text><text transform="translate(939,1210) rotate(-90)">30</text><text transform="translate(949,1195) rotate(-90)">63.5</text>
<text x="719" y="1229">11</text><text x="808" y="1229">220</text><text x="912" y="1229">16</text><text x="817" y="1237">247</text></g>
<line class="d" x1="714.6" y1="1230.2" x2="723.5" y2="1230.2"/><line class="d" x1="723.5" y1="1230.2" x2="903.3" y2="1230.2"/><line class="d" x1="903.3" y1="1230.2" x2="916.7" y2="1230.2"/>
<line class="d" x1="714.6" y1="1238.5" x2="916.7" y2="1238.5"/>
<!-- top view -->
<rect class="o" x="714.6" y="1249.1" width="202.1" height="104"/>
<path class="t" d="M714.6,1256L711,1262V1292L714.6,1296"/>
<text x="815" y="1301" style="font-size:10px;text-anchor:middle">Top view</text>
<path class="t" d="M692,1266H698V1263L703,1268L698,1273V1270H692Z"/>
<text x="698" y="1282" style="font-size:7.5px;text-anchor:middle">Air flow</text><text x="698" y="1291" style="font-size:7.5px;text-anchor:middle">direction</text>
<text x="921" y="1264" style="font-size:9px">O/P</text>
<rect x="916.7" y="1264.1" width="13" height="67" fill="url(#tb)"/>
<path class="t" d="M916.7,1331H930M921,1264V1331" style="stroke-width:0.9"/>
<g style="font-size:6.5px;font-weight:bold"><text x="911" y="1272">1</text><text x="911" y="1283">2</text><text x="911" y="1293">3</text><text x="911" y="1304">4</text><text x="911" y="1315">5</text><text x="911" y="1326">6</text></g>
<path class="t" d="M916.7,1249.1H950M916.7,1353.1H950"/><line class="d" x1="946.4" y1="1249.1" x2="946.4" y2="1353.1"/>
<g class="s" style="font-size:7px;text-anchor:middle"><text transform="translate(949,1301) rotate(-90)">127</text><text transform="translate(939,1280) rotate(-90)">13</text><text transform="translate(939,1304) rotate(-90)">10</text>
<text transform="translate(694,1322) rotate(-90)">8.2</text><text transform="translate(694,1346) rotate(-90)">10</text></g>
<text class="s" x="708" y="1316" style="font-size:6.5px">I/P</text>
<rect x="706.3" y="1318" width="8.3" height="24" fill="url(#tb)"/>
<g style="font-size:6.5px;font-weight:bold"><text x="717" y="1324">1</text><text x="717" y="1333">2</text><text x="717" y="1341">3</text></g>
<text class="s" x="905" y="1338" style="font-size:7px">CN4</text><text class="s" x="899" y="1345" style="font-size:7px">RS</text>
<rect class="k" x="910.5" y="1337" width="5.5" height="9"/>
<!-- bottom view -->
<rect class="o" x="719" y="1376.9" width="197.7" height="102.2"/>
<path class="c" d="M724.9,1383.5H895.6M743,1472.5H910.7" style="stroke-width:0.5"/>
<use href="#m" x="724.9" y="1383.5"/><use href="#m" x="848.1" y="1383.5"/><use href="#m" x="895.6" y="1383.5"/><use href="#m" x="743" y="1472.5"/><use href="#m" x="910.7" y="1472.5"/>
<rect x="709.6" y="1386.2" width="9.4" height="25.6" fill="url(#tb)"/>
<rect x="916.7" y="1398.4" width="12.3" height="64.5" fill="url(#tb)"/>
<path class="t" d="M921,1398V1463M713,1386V1412M719,1440L716,1445V1475L719,1479"/>
<text x="815" y="1433" style="font-size:10px;text-anchor:middle">Bottom view</text>
<text class="s" transform="translate(756,1448) rotate(-90)" style="font-size:7px;text-anchor:middle">5-M3 L=6</text><path class="t" d="M755,1462L745,1470"/>
<path class="t" d="M724.9,1364V1383M848.1,1364V1383M895.6,1364V1383M704,1376.9H720M704,1479.1H720M719,1480V1492M743,1476V1492M910.7,1476V1492"/>
<line class="d" x1="724.9" y1="1368" x2="848.1" y2="1368"/><line class="d" x1="848.1" y1="1368" x2="895.6" y2="1368"/>
<line class="d" x1="704.7" y1="1376.9" x2="704.7" y2="1479.1"/>
<line class="d" x1="719" y1="1487.2" x2="743" y2="1487.2"/><line class="d" x1="743" y1="1487.2" x2="910.7" y2="1487.2"/>
<g class="s" style="font-size:7.5px;text-anchor:middle"><text x="787" y="1366">137</text><text x="870" y="1366">76</text><text x="727" y="1366">7.5</text>
<text transform="translate(707,1366) rotate(-90)">8.5</text><text transform="translate(703,1428) rotate(-90)">110</text>
<text x="733" y="1486">32</text><text x="832" y="1486">207.5</text></g>
</g>

<!-- page number -->
<rect x="541" y="1530" width="28" height="38" fill="#02548f"/>
<text x="555" y="1547" style="font-size:12px;font-weight:bold;fill:#fff;text-anchor:middle">100</text>
</svg>
</body></html>
